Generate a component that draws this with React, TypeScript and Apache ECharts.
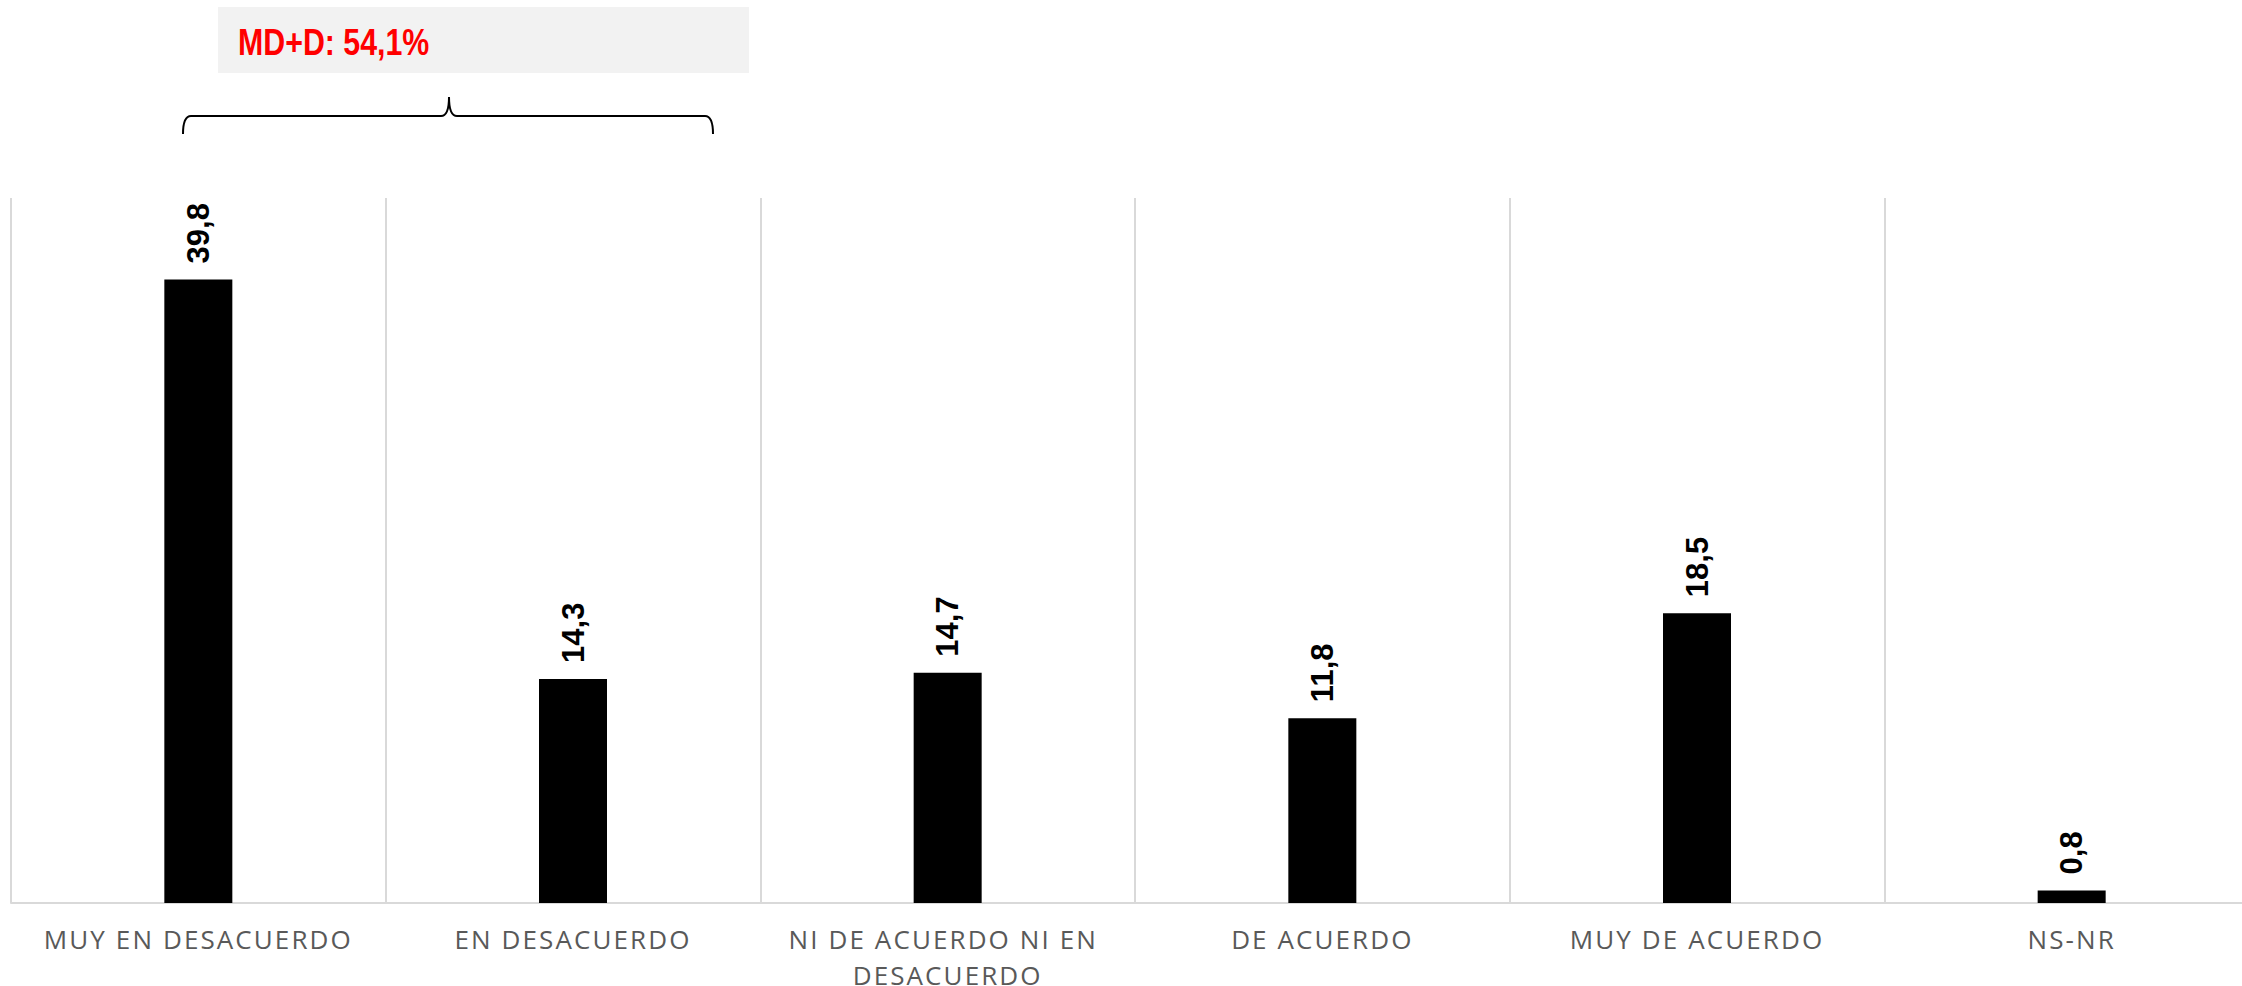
import React, { useEffect, useRef } from "react";
import * as echarts from "echarts";

const categories = [
  "MUY EN DESACUERDO",
  "EN DESACUERDO",
  "NI DE ACUERDO NI EN DESACUERDO",
  "DE ACUERDO",
  "MUY DE ACUERDO",
  "NS-NR",
];
const values = [39.8, 14.3, 14.7, 11.8, 18.5, 0.8];
const annotationText = "MD+D: 54,1%";

const bracePath =
  "M183 134 Q183 116 191 116 L441 116 Q449 116 449 97 Q449 116 457 116 L705 116 Q713 116 713 134";

export default function App() {
  const ref = useRef<HTMLDivElement>(null);
  useEffect(() => {
    if (!ref.current) return;
    echarts.graphic.registerShape("brace", echarts.graphic.extendPath(bracePath, {}));
    const chart = echarts.init(ref.current, null, { renderer: "svg" });
    chart.setOption({
      animation: false,
      backgroundColor: "#ffffff",
      grid: {
        left: 11,
        top: 198,
        width: 2248,
        height: 705,
        containLabel: false,
        outerBoundsMode: "none",
      },
      xAxis: {
        type: "category",
        data: categories,
        boundaryGap: true,
        axisLine: { show: true, lineStyle: { color: "#d9d9d9", width: 2 } },
        axisTick: { show: false },
        splitLine: { show: true, interval: 0, lineStyle: { color: "#d9d9d9", width: 2 } },
        axisLabel: {
          interval: 0,
          margin: 18,
          color: "#595959",
          fontFamily: "Open Sans",
          fontSize: 26,
          lineHeight: 36,
          width: 330,
          overflow: "break",
        },
      },
      yAxis: {
        type: "value",
        min: 0,
        max: 45,
        show: false,
        splitLine: { show: false },
      },
      series: [
        {
          type: "bar",
          data: values,
          barWidth: 68,
          itemStyle: { color: "#000000" },
          label: {
            show: true,
            position: "top",
            rotate: 90,
            align: "left",
            verticalAlign: "middle",
            distance: 16,
            color: "#000000",
            fontFamily: "Liberation Sans",
            fontWeight: "bold",
            fontSize: 31,
            formatter: (p: any) => String(p.value).replace(".", ","),
          },
        },
      ],
      graphic: [
        {
          type: "rect",
          shape: { x: 218, y: 7, width: 531, height: 66 },
          style: { fill: "#f2f2f2" },
          silent: true,
        },
        {
          type: "text",
          x: 238,
          y: 42,
          scaleX: 0.82,
          style: {
            text: annotationText,
            fill: "#ff0000",
            font: "bold 37px 'Liberation Sans', Arial, sans-serif",
            verticalAlign: "middle",
            align: "left",
          },
          silent: true,
        },
        {
          type: "brace",
          x: 0,
          y: 0,
          style: { fill: null, stroke: "#000000", lineWidth: 2 },
          silent: true,
        },
      ],
    });
    // widen axis label tracking like the original
    const texts = ref.current.querySelectorAll("text");
    texts.forEach((t) => {
      const s = (t.textContent || "").trim();
      if (/^[A-Z\s-]+$/.test(s)) {
        t.setAttribute("letter-spacing", "2.1");
      }
    });
    return () => chart.dispose();
  }, []);
  return (
    <div
      ref={ref}
      style={{ position: "fixed", left: 0, top: 0, width: 2242, height: 986, overflow: "hidden" }}
    />
  );
}
